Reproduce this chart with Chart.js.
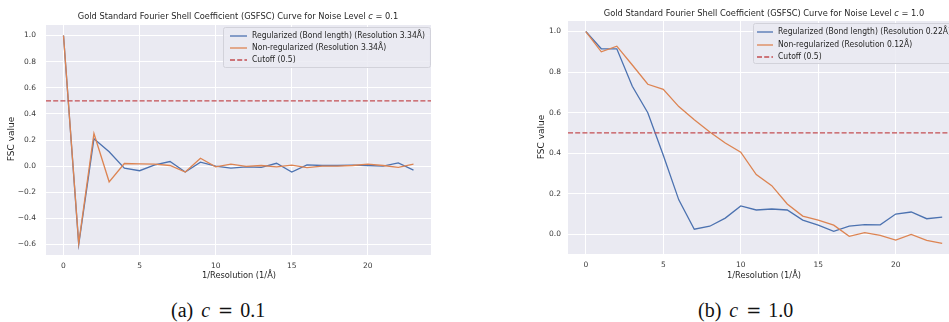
<!DOCTYPE html>
<html>
<head>
<meta charset="utf-8">
<script src="https://cdn.jsdelivr.net/npm/chart.js@4.4.1/dist/chart.umd.min.js"></script>
<style>
  html, body { margin: 0; padding: 0; background: #ffffff; }
  #figure { position: relative; width: 949px; height: 322px; overflow: hidden; background: #ffffff; }
  canvas.panel { position: absolute; top: 0; }
  .caption {
    position: absolute; top: 299px;
    font-family: "Liberation Serif", "DejaVu Serif", serif;
    font-size: 20px; line-height: 22px; color: #111; white-space: nowrap;
  }
  .caption i { font-style: italic; margin-left: 8px; }
  .caption .eq { font-family: "DejaVu Serif", serif; font-size: 18px; margin: 0 7px 0 8px; }
</style>
</head>
<body>
<div id="figure">
  <canvas id="panelA" class="panel" width="475" height="290" style="left:0px"></canvas>
  <canvas id="panelB" class="panel" width="500" height="290" style="left:475px"></canvas>
  <div class="caption" style="left:171px">(a)<i>c</i><span class="eq">=</span>0.1</div>
  <div class="caption" style="left:698px">(b)<i>c</i><span class="eq">=</span>1.0</div>
</div>
<script>
// Fourier shell index (1/Resolution, 1/Å)
const shellIndex = [0, 1, 2, 3, 4, 5, 6, 7, 8, 9, 10, 11, 12, 13, 14, 15, 16, 17, 18, 19, 20, 21, 22, 23];

// Noise level c = 0.1
const regularizedLow    = [1.0, -0.60, 0.21, 0.11, -0.015, -0.035, 0.01, 0.035, -0.045, 0.03, 0.0, -0.015, -0.005, -0.01, 0.022, -0.045, 0.01, 0.005, 0.005, 0.008, 0.005, 0.0, 0.025, -0.03];
const nonRegularizedLow = [1.0, -0.59, 0.25, -0.12, 0.02, 0.018, 0.015, 0.005, -0.045, 0.06, -0.005, 0.015, -0.002, 0.005, -0.005, 0.008, -0.012, 0.0, 0.0, 0.005, 0.015, 0.005, -0.01, 0.015];

// Noise level c = 1.0
const regularizedHigh    = [1.0, 0.915, 0.915, 0.73, 0.60, 0.39, 0.17, 0.025, 0.04, 0.08, 0.14, 0.12, 0.125, 0.12, 0.07, 0.045, 0.015, 0.04, 0.048, 0.047, 0.10, 0.11, 0.077, 0.085];
const nonRegularizedHigh = [1.0, 0.90, 0.928, 0.835, 0.74, 0.715, 0.63, 0.565, 0.505, 0.45, 0.405, 0.295, 0.24, 0.15, 0.09, 0.07, 0.045, -0.01, 0.008, -0.005, -0.028, 0.0, -0.03, -0.045];

const cutoffLevel = 0.5;

// Tick labels
const xTickValues = [0, 5, 10, 15, 20];
const yTicksLow  = [-0.6, -0.4, -0.2, 0.0, 0.2, 0.4, 0.6, 0.8, 1.0];
const yTicksHigh = [0.0, 0.2, 0.4, 0.6, 0.8, 1.0];

// Series / legend labels
const labelsLow  = ['Regularized (Bond length) (Resolution 3.34Å)', 'Non-regularized (Resolution 3.34Å)', 'Cutoff (0.5)'];
const labelsHigh = ['Regularized (Bond length) (Resolution 0.22Å)', 'Non-regularized (Resolution 0.12Å)', 'Cutoff (0.5)'];

// ---- styling ----
const COLORS = { blue: '#4c72b0', orange: '#dd8452', red: '#c44e52', face: '#eaeaf2', grid: '#ffffff', text: '#262626', tick: '#3a3a3a' };
const FONT = '"DejaVu Sans", "Liberation Sans", sans-serif';
const TEXT_SQUEEZE = 0.9;   // horizontal condensing of annotation text

function toPoints(values) {
  return values.map((v, i) => ({ x: shellIndex[i], y: v }));
}

function fmtTick(v) {
  const s = Math.abs(v).toFixed(1);
  return v < -1e-9 ? '\u2212' + s : s;
}

// draws a run of text segments (each with its own font), horizontally condensed
function drawRuns(ctx, runs, x, y, align) {
  let total = 0;
  runs.forEach(r => { ctx.font = r.f; r.w = ctx.measureText(r.t).width; total += r.w; });
  ctx.save();
  ctx.translate(x, y);
  ctx.scale(TEXT_SQUEEZE, 1);
  let cx = align === 'center' ? -total / 2 : 0;
  ctx.textAlign = 'left';
  runs.forEach(r => { ctx.font = r.f; ctx.fillText(r.t, cx, 0); cx += r.w; });
  ctx.restore();
  return total * TEXT_SQUEEZE;
}

// Draws the axes face, title, axis labels and the framed legend
const decorPlugin = {
  id: 'decor',
  beforeDraw(chart) {
    const { ctx, chartArea: a } = chart;
    ctx.save();
    ctx.fillStyle = COLORS.face;
    ctx.fillRect(a.left, a.top, a.right - a.left, a.bottom - a.top);
    ctx.restore();
  },
  afterDraw(chart, args, opts) {
    const { ctx } = chart;
    ctx.save();
    ctx.fillStyle = COLORS.text;
    ctx.textBaseline = 'middle';

    // title with italic "c"
    drawRuns(ctx, [
      { t: opts.titleHead, f: `${opts.titleSize}px ${FONT}` },
      { t: 'c', f: `italic ${opts.titleSize}px ${FONT}` },
      { t: opts.titleTail, f: `${opts.titleSize}px ${FONT}` }
    ], opts.titleX, opts.titleY, 'center');

    // axis labels
    drawRuns(ctx, [{ t: '1/Resolution (1/Å)', f: `${opts.labelSize}px ${FONT}` }], opts.xLabelX, opts.xLabelY, 'center');
    ctx.save();
    ctx.font = `${opts.yLabelSize}px ${FONT}`;
    ctx.textAlign = 'center';
    ctx.translate(opts.yLabelX, opts.yLabelY);
    ctx.rotate(-Math.PI / 2);
    ctx.fillText('FSC value', 0, 0);
    ctx.restore();

    // legend
    const L = opts.legend;
    const lf = `${L.size}px ${FONT}`;
    ctx.font = lf;
    let maxW = 0;
    chart.data.datasets.forEach(ds => { maxW = Math.max(maxW, ctx.measureText(ds.label).width * TEXT_SQUEEZE); });
    const boxW = L.textX - L.x + maxW + 5;
    ctx.beginPath();
    ctx.roundRect(L.x + 0.5, L.y + 0.5, boxW, L.h, 2);
    ctx.fillStyle = 'rgba(234,234,242,0.85)';
    ctx.fill();
    ctx.strokeStyle = '#d2d2da';
    ctx.lineWidth = 1;
    ctx.stroke();
    chart.data.datasets.forEach((ds, i) => {
      const cy = L.rowY[i];
      ctx.beginPath();
      ctx.setLineDash(ds.borderDash || []);
      ctx.strokeStyle = ds.borderColor;
      ctx.lineWidth = ds.borderWidth;
      ctx.moveTo(L.lineX0, cy);
      ctx.lineTo(L.lineX1, cy);
      ctx.stroke();
      ctx.setLineDash([]);
      ctx.fillStyle = COLORS.text;
      drawRuns(ctx, [{ t: ds.label, f: lf }], L.textX, cy, 'left');
    });
    ctx.restore();
  }
};

function buildPanel(canvasId, cfg) {
  const canvas = document.getElementById(canvasId);
  const W = canvas.width, H = canvas.height;
  const datasets = [
    { label: cfg.labels[0], data: toPoints(cfg.regularized), borderColor: COLORS.blue, borderWidth: 1.3, order: 3 },
    { label: cfg.labels[1], data: toPoints(cfg.nonRegularized), borderColor: COLORS.orange, borderWidth: 1.3, order: 2 },
    { label: cfg.labels[2], data: [{ x: cfg.xMin, y: cutoffLevel }, { x: cfg.xMax, y: cutoffLevel }],
      borderColor: COLORS.red, borderWidth: 1.3, borderDash: [5, 2.2], order: 1 }
  ];
  return new Chart(canvas, {
    type: 'line',
    data: { datasets },
    plugins: [decorPlugin],
    options: {
      responsive: false,
      animation: false,
      events: [],
      elements: { point: { radius: 0 }, line: { tension: 0, fill: false } },
      layout: { padding: { left: 0, top: cfg.plotTop, right: W - cfg.plotRight, bottom: 0 } },
      plugins: {
        legend: { display: false },
        title: { display: false },
        tooltip: { enabled: false },
        decor: cfg.decor
      },
      scales: {
        x: {
          type: 'linear', min: cfg.xMin, max: cfg.xMax,
          afterFit: s => { s.height = H - cfg.plotBottom; },
          afterBuildTicks: s => { s.ticks = xTickValues.map(v => ({ value: v })); },
          border: { display: false },
          grid: { color: COLORS.grid, lineWidth: 1, drawTicks: false },
          ticks: { font: { family: FONT, size: 7.5 }, color: COLORS.tick, padding: 7, maxRotation: 0, callback: v => String(v) }
        },
        y: {
          type: 'linear', min: cfg.yMin, max: cfg.yMax,
          afterFit: s => { s.width = cfg.plotLeft; },
          afterBuildTicks: s => { s.ticks = cfg.yTicks.map(v => ({ value: v })); },
          border: { display: false },
          grid: { color: COLORS.grid, lineWidth: 1, drawTicks: false },
          ticks: { font: { family: FONT, size: 7.5 }, color: COLORS.tick, padding: cfg.yTickPad, callback: v => fmtTick(v) }
        }
      }
    }
  });
}

buildPanel('panelA', {
  labels: labelsLow, regularized: regularizedLow, nonRegularized: nonRegularizedLow,
  xMin: -1.15, xMax: 24.15, yMin: -0.68, yMax: 1.08, yTicks: yTicksLow,
  plotLeft: 46, plotTop: 25, plotRight: 431, plotBottom: 255, yTickPad: 10,
  decor: {
    titleHead: 'Gold Standard Fourier Shell Coefficient (GSFSC) Curve for Noise Level ', titleTail: ' = 0.1',
    titleSize: 9.2, titleX: 238, titleY: 17,
    labelSize: 9.2, yLabelSize: 9, xLabelX: 239, xLabelY: 276, yLabelX: 12, yLabelY: 139,
    legend: { x: 223, y: 27, h: 40, size: 8.5, lineX0: 230, lineX1: 247, textX: 252, rowY: [36, 48, 60] }
  }
});

buildPanel('panelB', {
  labels: labelsHigh, regularized: regularizedHigh, nonRegularized: nonRegularizedHigh,
  xMin: -1.15, xMax: 24.15, yMin: -0.097, yMax: 1.052, yTicks: yTicksHigh,
  plotLeft: 93, plotTop: 21, plotRight: 485, plotBottom: 254, yTickPad: 7,
  decor: {
    titleHead: 'Gold Standard Fourier Shell Coefficient (GSFSC) Curve for Noise Level ', titleTail: ' = 1.0',
    titleSize: 9.2, titleX: 289, titleY: 13.5,
    labelSize: 9.2, yLabelSize: 9, xLabelX: 289, xLabelY: 276, yLabelX: 67, yLabelY: 137,
    legend: { x: 278, y: 23, h: 40, size: 8.5, lineX0: 282, lineX1: 298, textX: 303, rowY: [32, 45, 57] }
  }
});
</script>
</body>
</html>
